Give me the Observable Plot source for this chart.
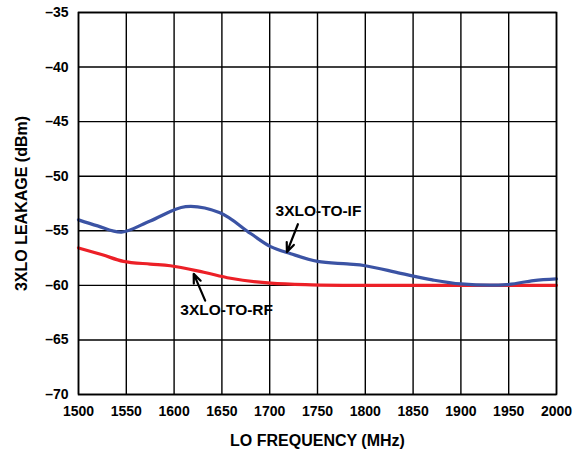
<!DOCTYPE html>
<html>
<head>
<meta charset="utf-8">
<script src="https://cdn.jsdelivr.net/npm/d3@7"></script>
<script src="https://cdn.jsdelivr.net/npm/@observablehq/plot@0.6"></script>
<style>
  html, body { margin: 0; padding: 0; background: #fff; }
  #chart svg { display: block; }
</style>
</head>
<body>
<div id="chart"></div>
<script>
const xTicks = [1500, 1550, 1600, 1650, 1700, 1750, 1800, 1850, 1900, 1950, 2000];
const yTicks = [-70, -65, -60, -55, -50, -45, -40, -35];

const ifFreq = [1500, 1520, 1545, 1575, 1612, 1648, 1680, 1701, 1722, 1750, 1781, 1800, 1837, 1870, 1900, 1948, 1976, 2000];
const ifLeak = [-54.0, -54.55, -55.12, -54.1, -52.78, -53.35, -55.25, -56.45, -57.1, -57.8, -58.04, -58.2, -58.9, -59.5, -59.87, -59.93, -59.56, -59.4];

const rfFreq = [1500, 1525, 1547, 1575, 1596, 1631, 1659, 1701, 1744, 1800, 1900, 2000];
const rfLeak = [-56.57, -57.2, -57.8, -58.05, -58.2, -58.8, -59.35, -59.8, -59.95, -60.0, -60.0, -60.0];

const labelText = ["3XLO-TO-IF", "3XLO-TO-RF"];
const labelX = [1751, 1655];
const labelY = [-53.15, -62.25];
const arrowX1 = [1729.5, 1632.5];
const arrowY1 = [-54.4, -61.4];
const arrowX2 = [1718, 1620.5];
const arrowY2 = [-56.95, -58.95];

const ifData = ifFreq.map((f, i) => ({f, v: ifLeak[i]}));
const rfData = rfFreq.map((f, i) => ({f, v: rfLeak[i]}));
const labels = labelText.map((t, i) => ({t, x: labelX[i], y: labelY[i]}));
const arrows = arrowX1.map((x1, i) => ({x1, y1: arrowY1[i], x2: arrowX2[i], y2: arrowY2[i]}));

const font = "'Liberation Sans', Arial, Helvetica, sans-serif";

const chart = Plot.plot({
  width: 584,
  height: 452,
  marginLeft: 78,
  marginRight: 28,
  marginTop: 12,
  marginBottom: 58,
  style: {fontFamily: font, fontSize: "14px", fontWeight: "bold", color: "#000", background: "#fff"},
  x: {domain: [1500, 2000]},
  y: {domain: [-70, -35]},
  marks: [
    Plot.ruleX(xTicks, {stroke: "#000", strokeWidth: 1.4}),
    Plot.ruleY(yTicks, {stroke: "#000", strokeWidth: 1.4}),
    Plot.axisX({ticks: xTicks, tickSize: 0, tickPadding: 12, tickFormat: d => String(d), label: null, fontSize: 14, fontWeight: "bold"}),
    Plot.axisY({ticks: yTicks, tickSize: 0, tickPadding: 10, tickFormat: d => String(d).replace("-", "\u2013"), label: null, fontSize: 14, fontWeight: "bold"}),
    Plot.line(rfData, {x: "f", y: "v", stroke: "#ec2027", strokeWidth: 3.2, curve: "catmull-rom"}),
    Plot.line(ifData, {x: "f", y: "v", stroke: "#3b53a4", strokeWidth: 3.2, curve: "catmull-rom"}),
    Plot.arrow(arrows, {x1: "x1", y1: "y1", x2: "x2", y2: "y2", stroke: "#000", strokeWidth: 2.2, headLength: 10, headAngle: 45, insetEnd: 0}),
    Plot.text(labels, {x: "x", y: "y", text: "t", fill: "#000", fontSize: 15.5, fontWeight: "bold", textAnchor: "middle"}),
    Plot.text(["LO FREQUENCY (MHz)"], {frameAnchor: "bottom", dy: 46, lineAnchor: "middle", textAnchor: "middle", text: d => d, fontSize: 16, fontWeight: "bold", fill: "#000"}),
    Plot.text(["3XLO LEAKAGE (dBm)"], {frameAnchor: "left", dx: -57, rotate: -90, lineAnchor: "middle", textAnchor: "middle", text: d => d, fontSize: 16, fontWeight: "bold", fill: "#000"}),
    Plot.frame({stroke: "#000", strokeWidth: 1.6})
  ]
});
document.getElementById("chart").appendChild(chart);
</script>
</body>
</html>
